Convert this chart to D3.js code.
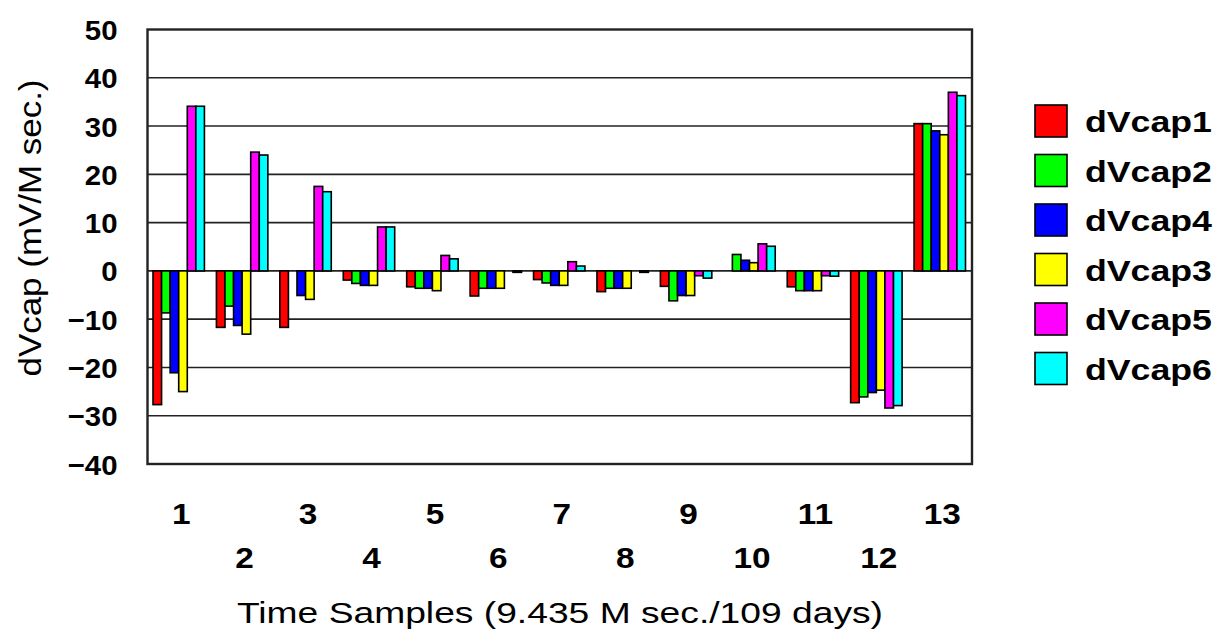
<!DOCTYPE html>
<html>
<head>
<meta charset="utf-8">
<script src="https://cdn.jsdelivr.net/npm/d3@7"></script>
<style>
  body { margin: 0; background: #fff; }
  svg { display: block; }
  text { font-family: "Liberation Sans", Arial, sans-serif; fill: #000; }
</style>
</head>
<body>
<svg width="1217" height="636"></svg>
<script>
// samples 1..13
var samples = ["1","2","3","4","5","6","7","8","9","10","11","12","13"];
var seriesNames = ["dVcap1","dVcap2","dVcap4","dVcap3","dVcap5","dVcap6"];
var seriesColors = ["#ff0000","#00ff00","#0000ff","#ffff00","#ff00ff","#00ffff"];

var dVcap1 = [-27.7, -11.7, -11.7, -1.9, -3.3, -5.2, -1.8, -4.3, -3.2, 0, -3.3, -27.3, 30.5];
var dVcap2 = [-8.7, -7.3, 0, -2.6, -3.6, -3.6, -2.5, -3.6, -6.2, 3.4, -4.1, -26.1, 30.5];
var dVcap4 = [-21.1, -11.3, -5.1, -3.0, -3.6, -3.6, -3.0, -3.6, -5.1, 2.2, -4.1, -25.2, 29.0];
var dVcap3 = [-25.0, -13.1, -5.9, -3.0, -4.1, -3.6, -3.0, -3.6, -5.1, 1.7, -4.1, -24.7, 28.2];
var dVcap5 = [34.1, 24.6, 17.5, 9.1, 3.2, 0, 1.9, 0, -1.0, 5.6, -1.0, -28.4, 37.0];
var dVcap6 = [34.1, 24.0, 16.4, 9.1, 2.5, -0.3, 1.0, -0.3, -1.5, 5.1, -1.1, -27.9, 36.3];

var yTicks = [50, 40, 30, 20, 10, 0, -10, -20, -30, -40];

var seriesValues = [dVcap1, dVcap2, dVcap4, dVcap3, dVcap5, dVcap6];

var svg = d3.select("svg");
var plotL = 147.5, plotR = 972, plotT = 29.5, plotB = 464;

var y = d3.scaleLinear().domain([-40, 50]).range([plotB, plotT]);
var x0 = d3.scaleBand().domain(samples).range([plotL, plotR]).padding(0);
var x1 = d3.scaleBand().domain(seriesNames).range([5.5, x0.bandwidth() - 6.5]).padding(0);

// gridlines
svg.append("g").selectAll("line")
  .data(yTicks.filter(function(d){ return d > -40 && d < 50; }))
  .enter().append("line")
  .attr("x1", plotL).attr("x2", plotR)
  .attr("y1", function(d){ return y(d); })
  .attr("y2", function(d){ return y(d); })
  .attr("stroke", "#222").attr("stroke-width", 1.6);

// bars (zero values are not drawn)
var bars = [];
seriesValues.forEach(function(vals, si) {
  vals.forEach(function(v, i) {
    if (v !== 0) bars.push({ s: seriesNames[si], c: seriesColors[si], sample: samples[i], v: v });
  });
});

svg.append("g").selectAll("rect")
  .data(bars)
  .enter().append("rect")
  .attr("x", function(d){ return x0(d.sample) + x1(d.s); })
  .attr("width", x1.bandwidth())
  .attr("y", function(d){ return y(Math.max(0, d.v)); })
  .attr("height", function(d){ return Math.abs(y(d.v) - y(0)); })
  .attr("fill", function(d){ return d.c; })
  .attr("stroke", "#000").attr("stroke-width", 1.6);

// frame
svg.append("rect")
  .attr("x", plotL).attr("y", plotT)
  .attr("width", plotR - plotL).attr("height", plotB - plotT)
  .attr("fill", "none").attr("stroke", "#222").attr("stroke-width", 2.4);

// y axis labels
var yAxis = svg.append("g")
  .attr("transform", "translate(" + plotL + ",0)")
  .call(d3.axisLeft(y).tickValues(yTicks).tickSize(0).tickFormat(d3.format("d")));
yAxis.select(".domain").remove();
yAxis.selectAll("text")
  .attr("x", 0)
  .attr("dy", "0.36em")
  .attr("transform", "translate(-30,0) scale(1.05,1)")
  .style("font-size", "28px").style("font-weight", "bold")
  .style("font-family", "'Liberation Sans', Arial, sans-serif")
  .attr("fill", "#000");

// x axis labels, staggered in two rows
var xAxis = svg.append("g")
  .attr("transform", "translate(0," + plotB + ")")
  .call(d3.axisBottom(x0).tickSize(0));
xAxis.select(".domain").remove();
xAxis.selectAll("text")
  .attr("y", 0)
  .attr("dy", 0)
  .attr("transform", function(d, i){ return "translate(2," + (i % 2 === 0 ? 60 : 104) + ") scale(1.15,1)"; })
  .style("font-size", "29px").style("font-weight", "bold")
  .style("font-family", "'Liberation Sans', Arial, sans-serif")
  .attr("fill", "#000");

// axis titles
svg.append("text")
  .attr("transform", "translate(41,228) rotate(-90)")
  .attr("text-anchor", "middle")
  .attr("textLength", 297).attr("lengthAdjust", "spacingAndGlyphs")
  .style("font-size", "32px")
  .text("dVcap (mV/M sec.)");

svg.append("text")
  .attr("x", 560).attr("y", 623)
  .attr("text-anchor", "middle")
  .attr("textLength", 646).attr("lengthAdjust", "spacingAndGlyphs")
  .style("font-size", "30px")
  .text("Time Samples (9.435 M sec./109 days)");

// legend
var legend = svg.append("g").selectAll("g")
  .data(seriesNames)
  .enter().append("g")
  .attr("transform", function(d, i){ return "translate(1035," + (121 + i * 49.5) + ")"; });

legend.append("rect")
  .attr("x", 0).attr("y", -16)
  .attr("width", 32).attr("height", 32)
  .attr("fill", function(d, i){ return seriesColors[i]; })
  .attr("stroke", "#000").attr("stroke-width", 1.6);

legend.append("text")
  .attr("transform", "translate(50,11) scale(1.19,1)")
  .style("font-size", "30px").style("font-weight", "bold")
  .text(function(d){ return d; });
</script>
</body>
</html>
